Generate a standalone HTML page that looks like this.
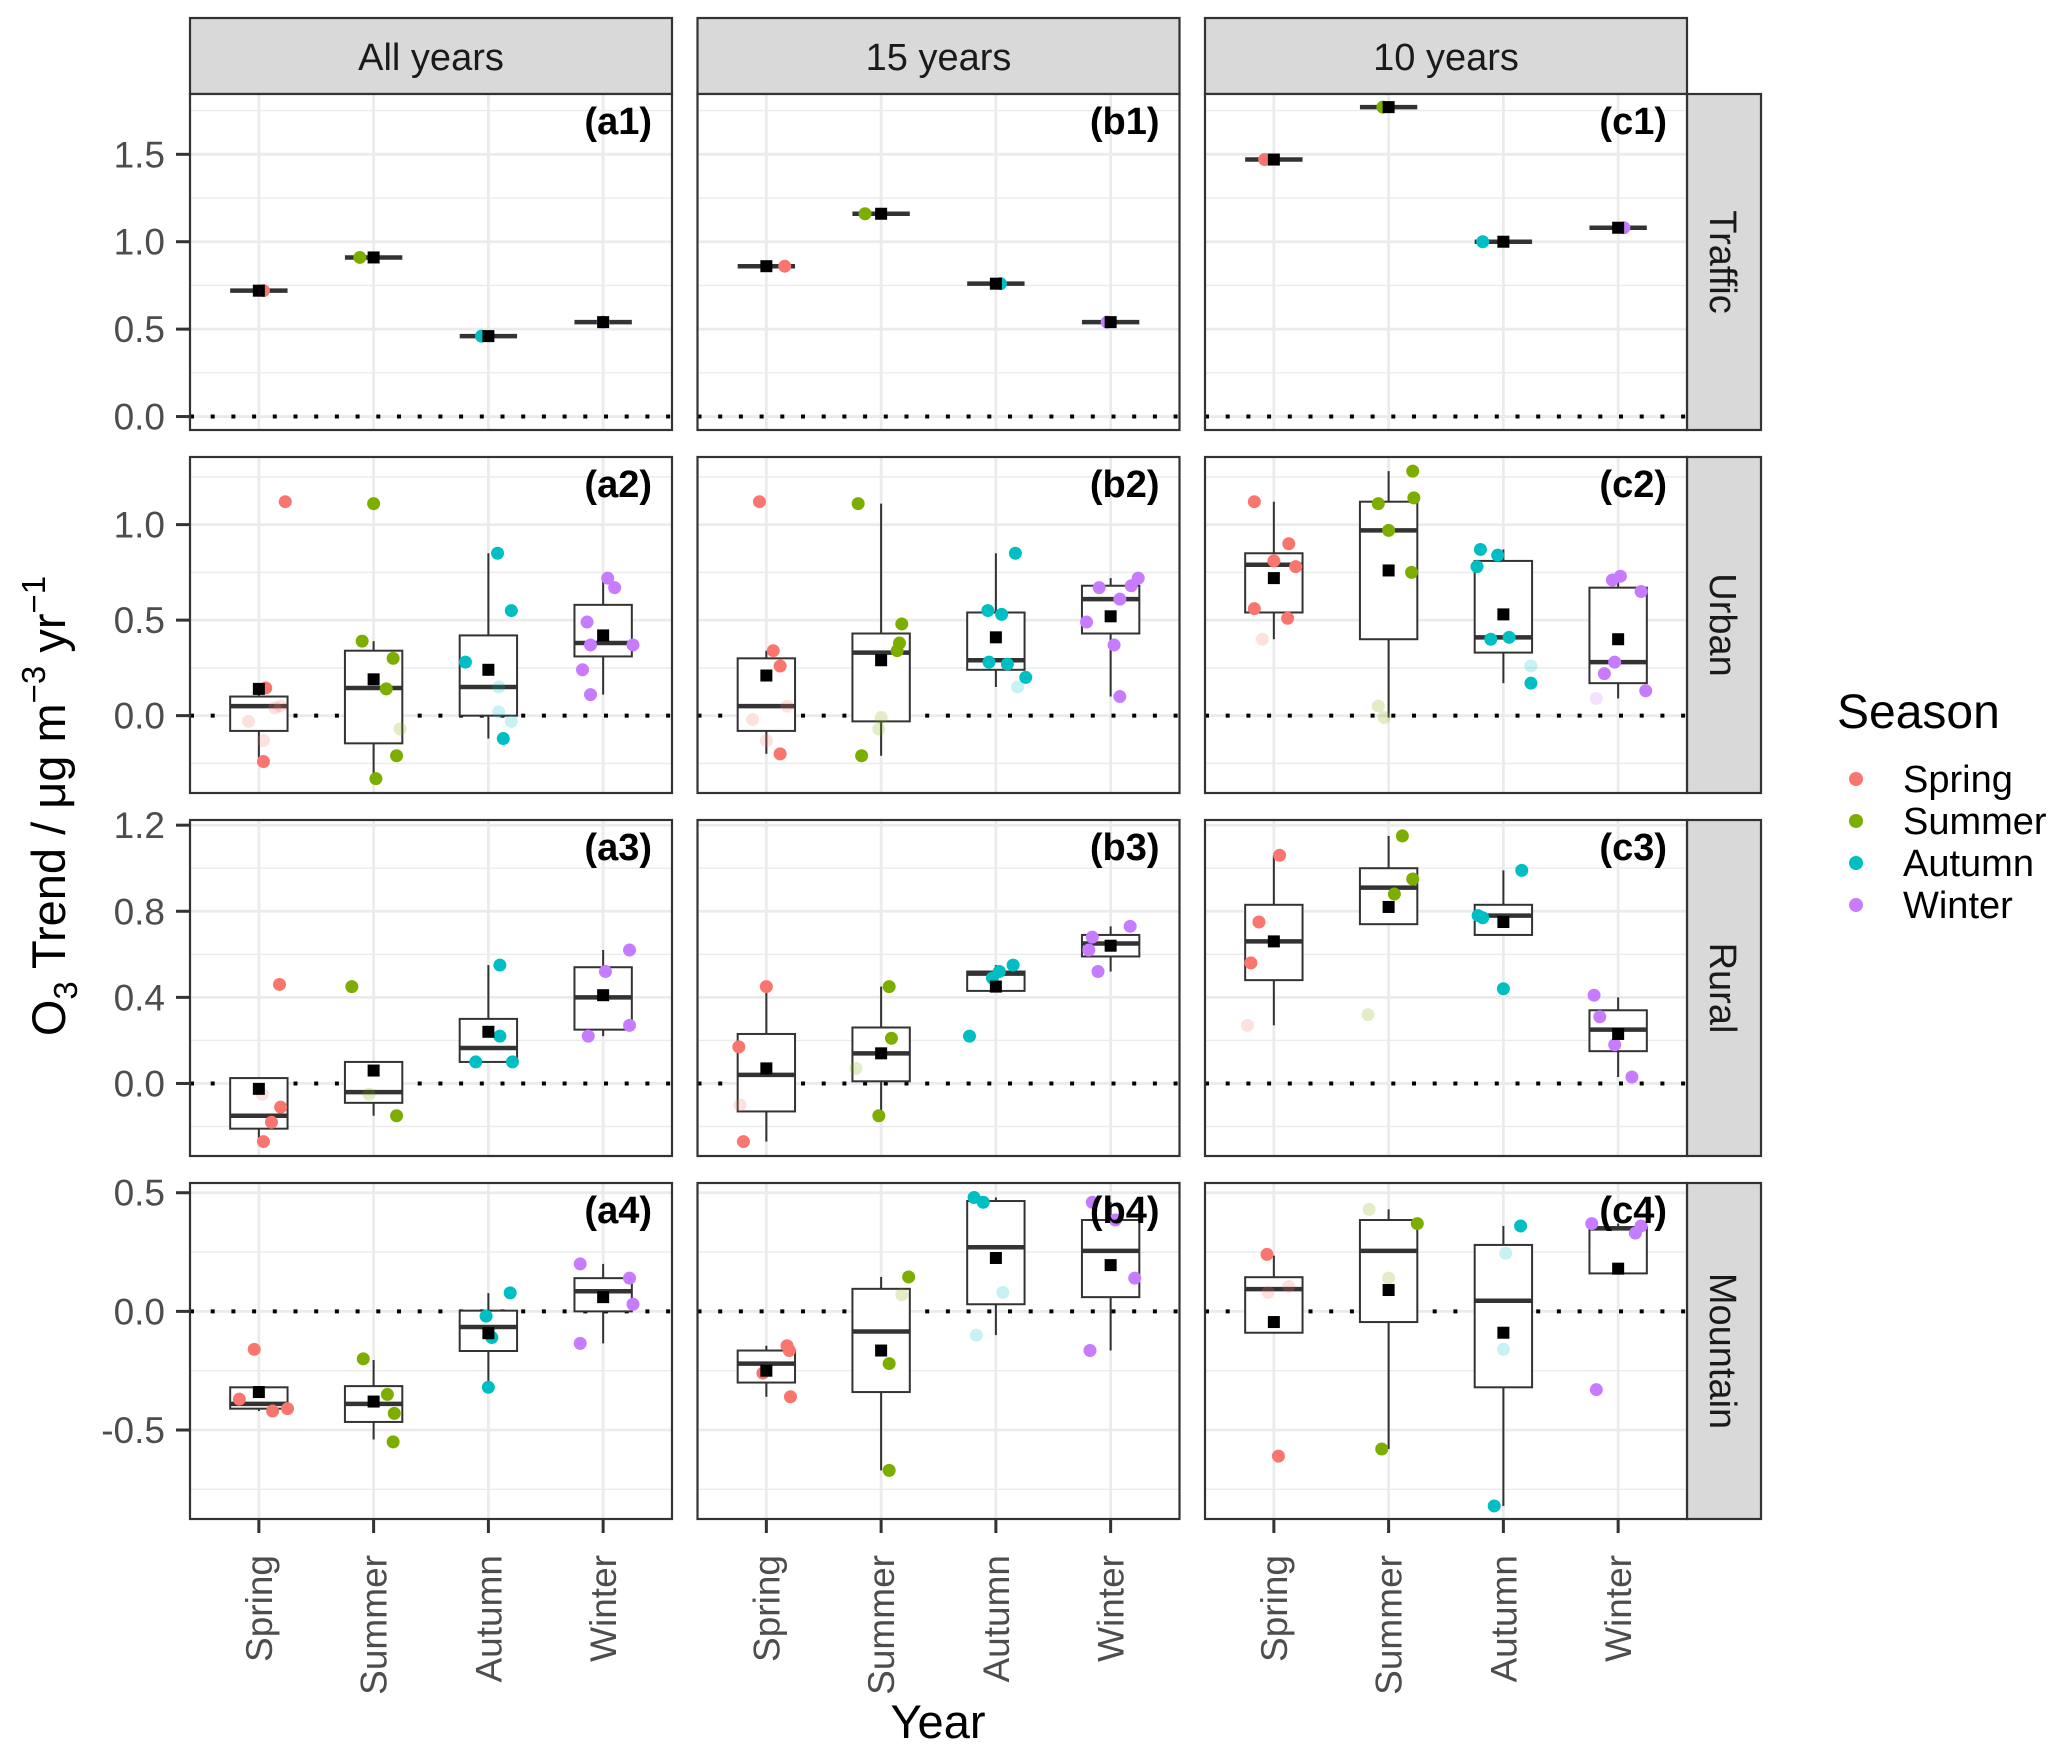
<!DOCTYPE html>
<html><head><meta charset="utf-8"><style>
html,body{margin:0;padding:0;background:#fff;}
svg{display:block;font-family:"Liberation Sans",Arial,sans-serif;}
</style></head><body>
<svg id="chart" width="2067" height="1756" viewBox="0 0 2067 1756" xmlns="http://www.w3.org/2000/svg"></svg>
<script>
// ---- data ----
const seasons = ["Spring","Summer","Autumn","Winter"];
const seasonColors = ["#F8766D","#7CAE00","#00BFC4","#C77CFF"];
const periods = ["All years","15 years","10 years"];
const sites = ["Traffic","Urban","Rural","Mountain"];
const panelTags = [["(a1)","(b1)","(c1)"],["(a2)","(b2)","(c2)"],["(a3)","(b3)","(c3)"],["(a4)","(b4)","(c4)"]];
const rowDomains = [[-0.077,1.845],[-0.405,1.354],[-0.337,1.224],[-0.875,0.541]];
const rowTicks = [[0,0.5,1.0,1.5],[0,0.5,1.0],[0,0.4,0.8,1.2],[-0.5,0,0.5]];
const rowTickLabels = [["0.0","0.5","1.0","1.5"],["0.0","0.5","1.0"],["0.0","0.4","0.8","1.2"],["-0.5","0.0","0.5"]];
const rowMinor = [[0.25,0.75,1.25,1.75],[-0.25,0.25,0.75,1.25],[-0.2,0.2,0.6,1.0],[-0.75,-0.25,0.25]];
// boxes: [lowerWhisker, q1, median, q3, upperWhisker] per season
const boxes = [
 [ [[0.72,0.72,0.72,0.72,0.72],[0.91,0.91,0.91,0.91,0.91],[0.46,0.46,0.46,0.46,0.46],[0.54,0.54,0.54,0.54,0.54]],
   [[0.86,0.86,0.86,0.86,0.86],[1.16,1.16,1.16,1.16,1.16],[0.76,0.76,0.76,0.76,0.76],[0.54,0.54,0.54,0.54,0.54]],
   [[1.47,1.47,1.47,1.47,1.47],[1.77,1.77,1.77,1.77,1.77],[1.00,1.00,1.00,1.00,1.00],[1.08,1.08,1.08,1.08,1.08]] ],
 [ [[-0.22,-0.08,0.05,0.10,0.145],[-0.33,-0.145,0.145,0.34,0.39],[-0.12,0.0,0.15,0.42,0.85],[0.11,0.31,0.38,0.58,0.72]],
   [[-0.2,-0.08,0.05,0.30,0.34],[-0.21,-0.03,0.33,0.43,1.11],[0.15,0.24,0.29,0.54,0.85],[0.1,0.43,0.61,0.68,0.72]],
   [[0.40,0.54,0.79,0.85,1.12],[-0.01,0.40,0.97,1.12,1.28],[0.17,0.33,0.41,0.81,0.87],[0.09,0.17,0.28,0.67,0.73]] ],
 [ [[-0.27,-0.21,-0.15,0.025,0.03],[-0.15,-0.09,-0.04,0.10,0.10],[0.1,0.1,0.165,0.30,0.55],[0.22,0.25,0.40,0.54,0.62]],
   [[-0.27,-0.13,0.04,0.23,0.45],[-0.15,0.01,0.14,0.26,0.45],[0.43,0.43,0.51,0.52,0.55],[0.52,0.59,0.65,0.69,0.73]],
   [[0.27,0.48,0.66,0.83,1.06],[0.74,0.74,0.91,1.0,1.15],[0.69,0.69,0.78,0.83,0.99],[0.03,0.15,0.25,0.34,0.40]] ],
 [ [[-0.42,-0.41,-0.39,-0.32,-0.32],[-0.54,-0.466,-0.39,-0.315,-0.205],[-0.32,-0.167,-0.066,0.003,0.077],[-0.135,0.0,0.085,0.14,0.2]],
   [[-0.36,-0.3,-0.22,-0.165,-0.145],[-0.67,-0.34,-0.085,0.095,0.145],[-0.1,0.03,0.27,0.465,0.48],[-0.165,0.06,0.255,0.385,0.46]],
   [[-0.09,-0.09,0.094,0.144,0.235],[-0.58,-0.045,0.255,0.385,0.43],[-0.82,-0.32,0.045,0.28,0.36],[0.16,0.16,0.35,0.355,0.37]] ]
];
const means = [
 [[0.72,0.91,0.46,0.54],[0.86,1.16,0.76,0.54],[1.47,1.77,1.00,1.08]],
 [[0.14,0.19,0.24,0.42],[0.21,0.29,0.41,0.52],[0.72,0.76,0.53,0.40]],
 [[-0.025,0.06,0.24,0.41],[0.07,0.14,0.45,0.64],[0.66,0.82,0.75,0.23]],
 [[-0.34,-0.38,-0.092,0.06],[-0.25,-0.165,0.225,0.195],[-0.045,0.09,-0.09,0.18]]
];
// points: [seasonIndex, value, jitter (category units), faded(1)]
const points = [
 [ [[0,0.72,0.04,0],[1,0.91,-0.12,0],[2,0.46,-0.06,0],[3,0.54,0,0]],
   [[0,0.86,0.16,0],[1,1.16,-0.14,0],[2,0.76,0.04,0],[3,0.54,-0.03,0]],
   [[0,1.47,-0.08,0],[1,1.77,-0.05,0],[2,1.00,-0.18,0],[3,1.08,0.05,0]] ],
 [ [[0,1.12,0.23,0],[0,-0.24,0.04,0],[0,0.145,0.06,0],[0,-0.03,-0.09,1],[0,-0.13,0.04,1],[0,0.04,0.14,1],[0,0.05,0.19,1],
    [1,1.11,0,0],[1,0.39,-0.1,0],[1,0.30,0.17,0],[1,0.14,0.11,0],[1,-0.21,0.2,0],[1,-0.33,0.02,0],[1,-0.07,0.23,1],
    [2,0.85,0.08,0],[2,0.55,0.2,0],[2,0.28,-0.2,0],[2,-0.12,0.13,0],[2,0.15,0.09,1],[2,0.02,0.09,1],[2,-0.03,0.2,1],
    [3,0.72,0.04,0],[3,0.67,0.1,0],[3,0.49,-0.14,0],[3,0.37,-0.11,0],[3,0.37,0.26,0],[3,0.24,-0.18,0],[3,0.11,-0.11,0]],
   [[0,1.12,-0.06,0],[0,0.34,0.06,0],[0,0.26,0.12,0],[0,-0.2,0.12,0],[0,-0.02,-0.12,1],[0,-0.13,0,1],[0,0.05,0.18,1],
    [1,1.11,-0.2,0],[1,0.48,0.18,0],[1,0.38,0.16,0],[1,0.34,0.14,0],[1,-0.21,-0.17,0],[1,-0.07,-0.02,1],[1,-0.01,0,1],
    [2,0.85,0.17,0],[2,0.55,-0.07,0],[2,0.53,0.05,0],[2,0.28,-0.06,0],[2,0.27,0.1,0],[2,0.2,0.26,0],[2,0.15,0.19,1],
    [3,0.72,0.24,0],[3,0.68,0.18,0],[3,0.67,-0.1,0],[3,0.61,0.08,0],[3,0.49,-0.21,0],[3,0.37,0.03,0],[3,0.1,0.08,0]],
   [[0,1.12,-0.17,0],[0,0.9,0.13,0],[0,0.78,0.19,0],[0,0.81,0,0],[0,0.56,-0.17,0],[0,0.51,0.12,0],[0,0.4,-0.1,1],
    [1,1.28,0.21,0],[1,1.14,0.22,0],[1,1.11,-0.09,0],[1,0.97,0,0],[1,0.75,0.2,0],[1,0.05,-0.09,1],[1,-0.01,-0.04,1],
    [2,0.87,-0.2,0],[2,0.84,-0.05,0],[2,0.78,-0.23,0],[2,0.4,-0.11,0],[2,0.41,0.05,0],[2,0.17,0.24,0],[2,0.26,0.24,1],
    [3,0.73,0.02,0],[3,0.71,-0.05,0],[3,0.65,0.2,0],[3,0.28,-0.03,0],[3,0.22,-0.12,0],[3,0.13,0.24,0],[3,0.09,-0.19,1]] ],
 [ [[0,0.46,0.18,0],[0,-0.27,0.04,0],[0,-0.18,0.11,0],[0,-0.11,0.19,0],[0,-0.05,0.03,1],
    [1,0.45,-0.19,0],[1,-0.15,0.2,0],[1,-0.05,-0.04,1],
    [2,0.55,0.1,0],[2,0.22,0.1,0],[2,0.1,-0.11,0],[2,0.1,0.21,0],
    [3,0.62,0.23,0],[3,0.52,0.02,0],[3,0.27,0.23,0],[3,0.22,-0.13,0]],
   [[0,0.45,0,0],[0,0.17,-0.24,0],[0,-0.27,-0.2,0],[0,-0.1,-0.23,1],
    [1,0.45,0.07,0],[1,0.21,0.09,0],[1,-0.15,-0.02,0],[1,0.07,-0.22,1],
    [2,0.55,0.15,0],[2,0.52,0.03,0],[2,0.49,-0.03,0],[2,0.22,-0.23,0],
    [3,0.73,0.17,0],[3,0.68,-0.16,0],[3,0.62,-0.19,0],[3,0.52,-0.11,0]],
   [[0,0.75,-0.13,0],[0,0.56,-0.2,0],[0,1.06,0.05,0],[0,0.27,-0.23,1],
    [1,1.15,0.12,0],[1,0.95,0.21,0],[1,0.88,0.05,0],[1,0.32,-0.18,1],
    [2,0.78,-0.22,0],[2,0.77,-0.18,0],[2,0.44,0,0],[2,0.99,0.16,0],
    [3,0.41,-0.21,0],[3,0.31,-0.16,0],[3,0.18,-0.03,0],[3,0.03,0.12,0]] ],
 [ [[0,-0.16,-0.04,0],[0,-0.37,-0.17,0],[0,-0.42,0.12,0],[0,-0.41,0.25,0],
    [1,-0.2,-0.09,0],[1,-0.35,0.12,0],[1,-0.43,0.18,0],[1,-0.55,0.17,0],
    [2,0.078,0.19,0],[2,-0.02,-0.02,0],[2,-0.11,0.03,0],[2,-0.32,0,0],
    [3,0.2,-0.2,0],[3,0.14,0.23,0],[3,0.03,0.26,0],[3,-0.135,-0.2,0]],
   [[0,-0.145,0.18,0],[0,-0.165,0.2,0],[0,-0.26,-0.03,0],[0,-0.36,0.21,0],
    [1,0.145,0.24,0],[1,-0.22,0.07,0],[1,-0.67,0.07,0],[1,0.07,0.18,1],
    [2,0.48,-0.19,0],[2,0.46,-0.11,0],[2,-0.1,-0.17,1],[2,0.08,0.06,1],
    [3,-0.165,-0.18,0],[3,0.14,0.21,0],[3,0.385,0.04,0],[3,0.46,-0.16,0]],
   [[0,0.24,-0.06,0],[0,-0.61,0.04,0],[0,0.08,-0.05,1],[0,0.105,0.13,1],
    [1,0.37,0.25,0],[1,-0.58,-0.06,0],[1,0.43,-0.17,1],[1,0.14,0,1],
    [2,0.36,0.15,0],[2,-0.82,-0.08,0],[2,0.245,0.02,1],[2,-0.16,0,1],
    [3,0.37,-0.23,0],[3,0.33,0.15,0],[3,0.36,0.2,0],[3,-0.33,-0.19,0]] ]
];

// ---- layout ----
const NS="http://www.w3.org/2000/svg";
const svg=document.getElementById('chart');
const colLeft=[190,697.5,1205], panelW=482;
const rowTop=[94,457,820,1183], panelH=336;
function mk(tag,attrs,parent){const e=document.createElementNS(NS,tag);for(const k in attrs)e.setAttribute(k,attrs[k]);(parent||svg).appendChild(e);return e;}
function xPos(c,cat){return colLeft[c]+(cat+1-0.4)/4.2*panelW;}
function yPos(r,v){const d=rowDomains[r];return rowTop[r]+panelH-(v-d[0])/(d[1]-d[0])*panelH;}

// column strips
periods.forEach((p,c)=>{
  const g=mk('g',{});
  
  
  mk('rect',{x:colLeft[c],y:18,width:panelW,height:76,fill:'#D9D9D9',stroke:'#333',"stroke-width":2.2},g);
  const t=mk('text',{x:colLeft[c]+panelW/2,y:70,"text-anchor":'middle',"font-size":38,fill:'#1A1A1A'},g);
  t.textContent=p;
});
// row strips
sites.forEach((s,r)=>{
  const g=mk('g',{});
  
  
  mk('rect',{x:1687,y:rowTop[r],width:74,height:panelH,fill:'#D9D9D9',stroke:'#333',"stroke-width":2.2},g);
  const cx=1710, cy=rowTop[r]+panelH/2;
  const t=mk('text',{x:cx,y:cy,"text-anchor":'middle',"font-size":38,fill:'#1A1A1A',transform:`rotate(90 ${cx} ${cy})`},g);
  t.textContent=s;
});

for(let r=0;r<4;r++){
  const ya=mk('g',{});
  
  
  rowTicks[r].forEach((v,i)=>{
    const y=yPos(r,v);
    mk('line',{x1:176,x2:190,y1:y,y2:y,stroke:'#333',"stroke-width":3},ya);
    const t=mk('text',{x:165,y:y+13,"text-anchor":'end',"font-size":37,fill:'#4D4D4D'},ya);
    
    
    t.textContent=rowTickLabels[r][i];
  });
  for(let c=0;c<3;c++){
    const g=mk('g',{});
    
    
    const L=colLeft[c],T=rowTop[r];
    mk('rect',{x:L,y:T,width:panelW,height:panelH,fill:'#fff'},g);
    const clip=mk('clipPath',{id:`cp${r}${c}`},g);
    mk('rect',{x:L,y:T,width:panelW,height:panelH},clip);
    const inner=mk('g',{"clip-path":`url(#cp${r}${c})`},g);
    rowMinor[r].forEach(v=>{const y=yPos(r,v);mk('line',{x1:L,x2:L+panelW,y1:y,y2:y,stroke:'#EBEBEB',"stroke-width":1.4},inner);});
    rowTicks[r].forEach(v=>{const y=yPos(r,v);mk('line',{x1:L,x2:L+panelW,y1:y,y2:y,stroke:'#EBEBEB',"stroke-width":2.8},inner);});
    for(let k=0;k<4;k++){const x=xPos(c,k);mk('line',{x1:x,x2:x,y1:T,y2:T+panelH,stroke:'#EBEBEB',"stroke-width":2.8},inner);}
    const y0=yPos(r,0);
    const zl=mk('line',{x1:L,x2:L+panelW,y1:y0,y2:y0,stroke:'#000',"stroke-width":4,"stroke-dasharray":'4 16.7'},inner);
    
    
    boxes[r][c].forEach((b,k)=>{
      const x=xPos(c,k),hw=0.25*panelW/4.2;
      const bg=mk('g',{},inner);
      
      
      mk('line',{x1:x,x2:x,y1:yPos(r,b[0]),y2:yPos(r,b[1]),stroke:'#333',"stroke-width":2},bg);
      mk('line',{x1:x,x2:x,y1:yPos(r,b[3]),y2:yPos(r,b[4]),stroke:'#333',"stroke-width":2},bg);
      const yt=yPos(r,b[3]),yb=yPos(r,b[1]);
      mk('rect',{x:x-hw,y:yt,width:2*hw,height:Math.max(0,yb-yt),fill:'#fff',stroke:'#333',"stroke-width":2},bg);
      const ym=yPos(r,b[2]);
      mk('line',{x1:x-hw,x2:x+hw,y1:ym,y2:ym,stroke:'#333',"stroke-width":4.5},bg);
    });
    points[r][c].forEach(p=>{
      const cx=xPos(c,p[0]+p[2]),cy=yPos(r,p[1]);
      const pt=mk('circle',{cx:cx,cy:cy,r:6.5,fill:seasonColors[p[0]],"fill-opacity":p[3]?0.22:1},inner);
      
      
    });
    means[r][c].forEach((m,k)=>{
      const x=xPos(c,k),y=yPos(r,m);
      const sq=mk('rect',{x:x-6,y:y-6,width:12,height:12,fill:'#000'},inner);
      
      
    });
    const tag=mk('text',{x:L+panelW-20,y:T+40,"text-anchor":'end',"font-size":38,"font-weight":'bold',fill:'#000'},g);
    
    
    tag.textContent=panelTags[r][c];
    mk('rect',{x:L,y:T,width:panelW,height:panelH,fill:'none',stroke:'#333',"stroke-width":2.2},g);
  }
}
for(let c=0;c<3;c++){
  const xa=mk('g',{});
  
  
  seasons.forEach((s,k)=>{
    const x=xPos(c,k);
    mk('line',{x1:x,x2:x,y1:1519,y2:1533,stroke:'#333',"stroke-width":3},xa);
    const t=mk('text',{x:x+13,y:1555,"text-anchor":'end',"font-size":37,fill:'#4D4D4D',transform:`rotate(-90 ${x+13} 1555)`},xa);
    
    
    t.textContent=s;
  });
}
const xt=mk('text',{x:938,y:1738,"text-anchor":'middle',"font-size":47,fill:'#000'});


xt.textContent='Year';
const yt=mk('text',{x:0,y:0,"text-anchor":'middle',"font-size":47,fill:'#000',transform:'translate(65 806) rotate(-90)'});


yt.innerHTML='O<tspan font-size="33" dy="12">3</tspan><tspan dy="-12"> Trend / μg m</tspan><tspan font-size="33" dy="-20">−3</tspan><tspan dy="20"> yr</tspan><tspan font-size="33" dy="-20">−1</tspan>';
const lg=mk('g',{});


const lt=mk('text',{x:1837,y:728,"font-size":48,fill:'#000'},lg);
lt.textContent='Season';
seasons.forEach((s,k)=>{
  const y=779+k*42;
  const e=mk('g',{},lg);
  
  
  mk('circle',{cx:1856,cy:y,r:7,fill:seasonColors[k]},e);
  const t=mk('text',{x:1903,y:y+13,"font-size":38,fill:'#000'},e);
  t.textContent=s;
});
</script>
</body></html>
